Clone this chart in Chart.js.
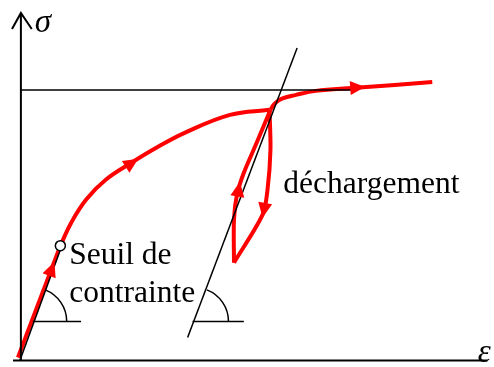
<!DOCTYPE html>
<html>
<head>
<meta charset="utf-8">
<script src="https://cdn.jsdelivr.net/npm/chart.js@4/dist/chart.umd.min.js"></script>
<style>
  body { margin: 0; background: #fff; }
  canvas { display: block; }
</style>
</head>
<body>
<canvas id="courbe" width="494" height="367"></canvas>
<script>
// strain / stress pairs (arbitrary units)
var chargeElastique = [[-3, 3], [40, 115]];
var ecrouissage = [[40, 115], [51, 138], [66, 161], [86, 181], [112, 198], [139, 214],
  [166, 228], [212, 246], [252, 251]];
var decharge = [[252, 251], [253, 211], [250, 171], [245, 146], [216, 98]];
var recharge = [[216, 98], [216, 141], [219, 166], [226, 188], [239, 218], [253, 251]];
var ecrouissage2 = [[253, 251], [257, 257], [264, 262], [279, 266], [299, 270], [336, 273],
  [379, 276], [417, 279]];
var penteA = [[-1, 0], [40, 111]];
var penteB = [[169, 23], [280, 313]];
var niveauSeuil = [[0, 271], [336, 271]];
var seuil = [[40, 115]];

// arrow heads: [tipX, tipY, fromX, fromY]
var fleches = [
  [34, 99, -3, 3],
  [119, 202, 100, 190],
  [349, 274, 336, 273],
  [222, 179, 217, 150],
  [245, 143, 250, 171]
];
// angle marks: [centerX, centerY, tickStart, tickEnd]
var angles = [[12, 39, 12, 61], [176, 39, 174, 226]];

var textes = [
  { t: 'Seuil de', x: 49, y: 97 },
  { t: 'contrainte', x: 49, y: 59 },
  { t: 'déchargement', x: 266, y: 168 }
];

function pts(arr) {
  return arr.map(function (p) { return { x: p[0], y: p[1] }; });
}

function trait(arr, color, width, tension) {
  return {
    data: pts(arr),
    showLine: true,
    borderColor: color,
    borderWidth: width,
    pointRadius: 0,
    tension: tension,
    fill: false,
    clip: false
  };
}

var dessin = {
  id: 'dessin',
  afterDatasetsDraw: function (chart) {
    var c = chart.ctx, sx = chart.scales.x, sy = chart.scales.y;
    var X = function (v) { return sx.getPixelForValue(v); };
    var Y = function (v) { return sy.getPixelForValue(v); };
    c.save();
    c.strokeStyle = '#000';
    c.lineCap = 'butt';

    // axes
    c.lineWidth = 2;
    c.beginPath();
    c.moveTo(X(-8), Y(0)); c.lineTo(X(473), Y(0));
    c.moveTo(X(0), Y(0)); c.lineTo(X(0), Y(348));
    c.moveTo(X(-9), Y(332)); c.lineTo(X(0), Y(348)); c.lineTo(X(11), Y(332));
    c.stroke();

    // angle marks
    c.lineWidth = 1.5;
    angles.forEach(function (a) {
      var cx = X(a[0]), cy = Y(a[1]);
      c.beginPath();
      c.moveTo(X(a[2]), cy); c.lineTo(X(a[3]), cy);
      c.stroke();
      c.beginPath();
      c.arc(cx, cy, 34, -68.5 * Math.PI / 180, 0);
      c.stroke();
    });

    // arrow heads
    c.fillStyle = '#ff0000';
    fleches.forEach(function (f) {
      var tx = X(f[0]), ty = Y(f[1]);
      var ang = Math.atan2(ty - Y(f[3]), tx - X(f[2]));
      var L = 15, W = 7;
      var bx = tx - L * Math.cos(ang), by = ty - L * Math.sin(ang);
      c.beginPath();
      c.moveTo(tx, ty);
      c.lineTo(bx + W * Math.sin(ang), by - W * Math.cos(ang));
      c.lineTo(bx - W * Math.sin(ang), by + W * Math.cos(ang));
      c.closePath();
      c.fill();
    });

    // labels
    c.fillStyle = '#000';
    c.textBaseline = 'alphabetic';
    c.font = '31.5px "Liberation Serif"';
    textes.forEach(function (t) { c.fillText(t.t, X(t.x), Y(t.y)); });
    c.font = 'italic 33px "Liberation Serif"';
    c.fillText('σ', X(14), Y(329));
    c.fillText('ε', X(463), Y(-2));
    c.restore();
  }
};

new Chart(document.getElementById('courbe'), {
  type: 'scatter',
  data: {
    datasets: [
      {
        data: pts(seuil),
        pointRadius: 5,
        pointBackgroundColor: '#fff',
        pointBorderColor: '#000',
        pointBorderWidth: 1.5,
        clip: false
      },
      trait(penteA, '#000', 1.5, 0),
      trait(penteB, '#000', 1.5, 0),
      trait(niveauSeuil, '#000', 1.5, 0),
      trait(chargeElastique, '#ff0000', 4, 0),
      trait(ecrouissage, '#ff0000', 4, 0.4),
      trait(decharge, '#ff0000', 4, 0.3),
      trait(recharge, '#ff0000', 4, 0.3),
      trait(ecrouissage2, '#ff0000', 4, 0.4)
    ]
  },
  options: {
    responsive: false,
    animation: false,
    layout: { padding: { left: 13, right: 0, top: 11, bottom: 6 } },
    scales: {
      x: { type: 'linear', min: -8, max: 473, display: false },
      y: { type: 'linear', min: 0, max: 350, display: false }
    },
    plugins: { legend: { display: false }, tooltip: { enabled: false } }
  },
  plugins: [dessin]
});
</script>
</body>
</html>
